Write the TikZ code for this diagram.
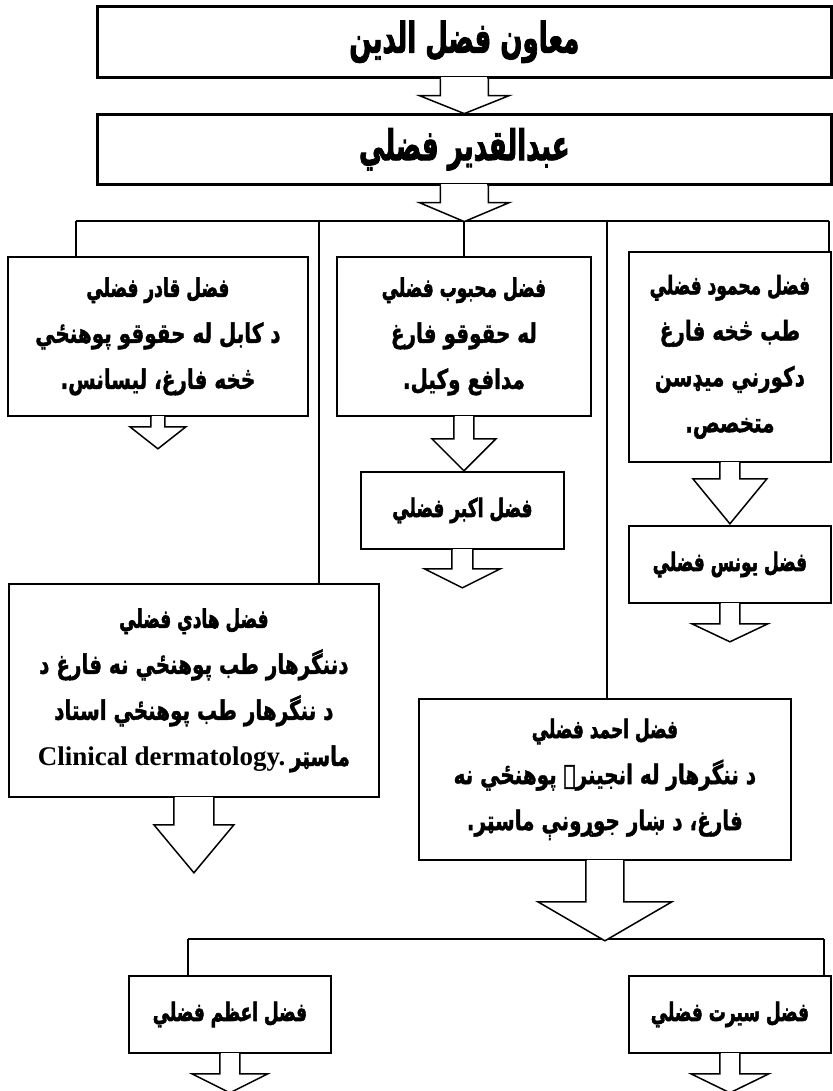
\documentclass[tikz,border=0pt]{standalone}
\usepackage{fontspec}
\usepackage{graphicx}
\setmainfont{Liberation Serif}
\newfontfamily\arabicfont[Script=Arabic,BoldFeatures={FakeBold=1.6}]{DejaVu Sans}
\newfontfamily\arabicheavy[Script=Arabic,BoldFeatures={FakeBold=2.6}]{DejaVu Sans}
\TeXXeTstate=1
\usetikzlibrary{calc}
% body line, heading line, title line
\newcommand{\ar}[1]{\scalebox{1.05}[1.42]{\arabicfont\bfseries\beginR #1\endR}}
\newcommand{\hd}[1]{\scalebox{1.0}[1.5]{\fontsize{17}{20}\selectfont\arabicheavy\bfseries\beginR #1\endR}}
\newcommand{\tl}[1]{\scalebox{0.93}[1.5]{\fontsize{28}{34}\selectfont\arabicheavy\bfseries\beginR #1\endR}}
\newcommand{\blockarrow}[5]{%
  \fill[white] ($(#1.south)+(-#2+0.9,-1.2)$) rectangle ($(#1.south)+(#2-0.9,#3)$);
  \draw[blk] ($(#1.south)+(-#2,0)$) -- ($(#1.south)+(-#2,#3)$) -- ($(#1.south)+(-#4,#3)$)
    -- ($(#1.south)+(0,#3+#5)$) -- ($(#1.south)+(#4,#3)$) -- ($(#1.south)+(#2,#3)$) -- ($(#1.south)+(#2,0)$);
}
\tikzset{
  box/.style={draw, line width=1.8pt, fill=white, anchor=north west, inner sep=2pt, align=center,
    font={\fontsize{19}{46}\selectfont}},
  bigbox/.style={box, line width=2.6pt, font={\fontsize{28}{34}\selectfont}},
  blk/.style={draw, line width=1.5pt, line join=miter, fill=white},
  link/.style={draw, line width=1.5pt}
}
\begin{document}
\begin{tikzpicture}[x=1pt,y=-1pt]
\useasboundingbox[fill=white] (0,0) rectangle (832,1091);

% top boxes
\node[bigbox, minimum width=734pt, minimum height=71pt] (t1) at (96,5) {\tl{معاون فضل الدين}};
\node[bigbox, minimum width=734pt, minimum height=70pt] (t2) at (96,113) {\tl{عبدالقدير فضلي}};

% bus 1
\coordinate (dA) at (76,221);
\coordinate (dD) at (319,221);
\coordinate (dB) at (464,221);
\coordinate (dG) at (607,221);
\coordinate (dC) at (829,221);

% second row
\node[box, minimum width=300pt, minimum height=159pt] (A) at (7,256)
  {\hd{فضل قادر فضلي}\\ \ar{د كابل له حقوقو پوهنځي}\\ \ar{څخه فارغ، ليسانس.}};
\node[box, minimum width=254pt, minimum height=159pt] (B) at (336,256)
  {\hd{فضل محبوب فضلي}\\ \ar{له حقوقو فارغ}\\ \ar{مدافع وكيل.}};
\node[box, minimum width=202pt, minimum height=210pt] (C) at (628,251)
  {\hd{فضل محمود فضلي}\\ \ar{طب څخه فارغ}\\ \ar{دكورني ميډسن}\\ \ar{متخصص.}};
\node[box, minimum width=203pt, minimum height=77pt] (B2) at (360,471) {\hd{فضل اكبر فضلي}};
\node[box, minimum width=202pt, minimum height=77pt] (C2) at (628,525) {\hd{فضل يونس فضلي}};
\node[box, minimum width=370pt, minimum height=213pt] (D) at (8,583)
  {\hd{فضل هادي فضلي}\\ \ar{دننگرهار طب پوهنځي نه فارغ د}\\ \ar{د ننگرهار طب پوهنځي استاد}\\
   {\bfseries\fontsize{27}{46}\selectfont Clinical dermatology.}\ \ar{ماسټر}};
\node[box, minimum width=372pt, minimum height=161pt] (G) at (418,698)
  {\hd{فضل احمد فضلي}\\ \ar{د ننگرهار له انجينرۍ پوهنځي نه}\\ \ar{فارغ، د ښار جوړونې ماسټر.}};
\node[box, minimum width=202pt, minimum height=77pt] (F) at (128,975) {\hd{فضل اعظم فضلي}};
\node[box, minimum width=202pt, minimum height=77pt] (H) at (628,975) {\hd{فضل سيرت فضلي}};

% bus lines
\draw[link] (dA) -- (dC);
\draw[link] (dA) -- (dA |- A.north);
\draw[link] (dD) -- (dD |- D.north);
\draw[link] (dB) -- (dB |- B.north);
\draw[link] (dG) -- (dG |- G.north);
\draw[link] (dC) -- (dC |- C.north);

\coordinate (eF) at (188,939);
\coordinate (eH) at (824,939);
\draw[link] (eF) -- (eH);
\draw[link] (eF) -- (eF |- F.north);
\draw[link] (eH) -- (eH |- H.north);

% block arrows
\blockarrow{t1}{24}{17}{45}{18}
\blockarrow{t2}{24}{17}{45}{19}
\blockarrow{A}{7}{10}{28}{22}
\blockarrow{B}{10}{22}{32}{32}
\blockarrow{B2}{10.5}{19}{38}{19}
\blockarrow{C}{10}{16}{37}{45}
\blockarrow{C2}{10}{20}{38}{18}
\blockarrow{D}{20}{27}{40}{48}
\blockarrow{G}{19}{41}{67}{39}
\blockarrow{F}{10}{20}{38}{19}
\blockarrow{H}{10}{20}{39}{19}
\end{tikzpicture}
\end{document}
